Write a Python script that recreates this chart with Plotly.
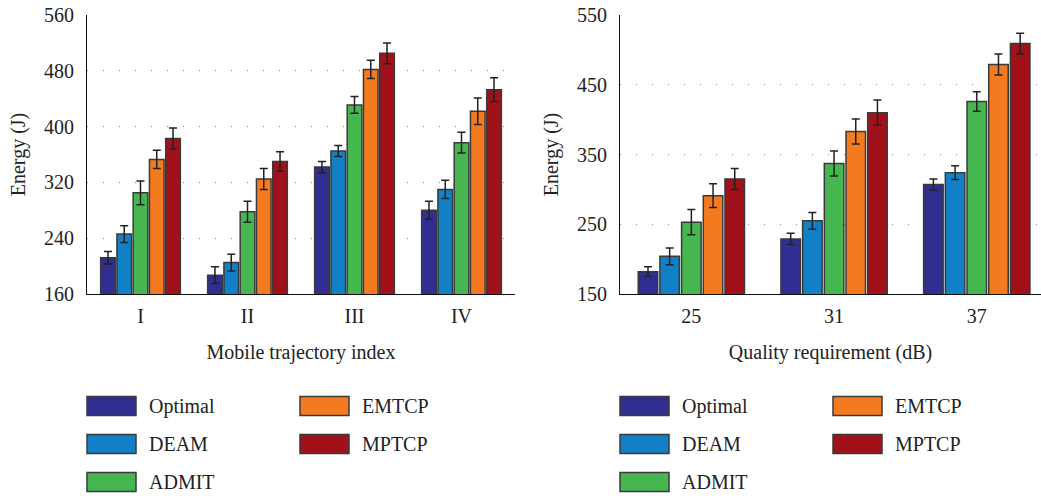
import plotly.graph_objects as go

W, H = 1041, 496

series = ["Optimal", "DEAM", "ADMIT", "EMTCP", "MPTCP"]
colors = ["#302F91", "#1180C6", "#46B750", "#F47A20", "#A0111A"]

traj_cats = ["I", "II", "III", "IV"]
traj_vals = {
    "Optimal": [212, 187, 342, 280],
    "DEAM":    [246, 205, 365, 310],
    "ADMIT":   [305, 278, 431, 377],
    "EMTCP":   [353, 325, 482, 422],
    "MPTCP":   [383, 350, 505, 453],
}
traj_err = {
    "Optimal": [9, 12, 8, 13],
    "DEAM":    [12, 12, 8, 13],
    "ADMIT":   [17, 15, 12, 15],
    "EMTCP":   [13, 15, 13, 19],
    "MPTCP":   [15, 14, 15, 17],
}

qual_cats = ["25", "31", "37"]
qual_vals = {
    "Optimal": [182, 229, 307],
    "DEAM":    [204, 255, 324],
    "ADMIT":   [253, 337, 426],
    "EMTCP":   [291, 383, 479],
    "MPTCP":   [315, 410, 509],
}
qual_err = {
    "Optimal": [7, 8, 8],
    "DEAM":    [12, 12, 10],
    "ADMIT":   [18, 18, 14],
    "EMTCP":   [17, 18, 15],
    "MPTCP":   [15, 18, 15],
}

left_ticks = [160, 240, 320, 400, 480, 560]
right_ticks = [150, 250, 350, 450, 550]

FONT = "Liberation Serif"
FS = 20
EDGE = "#3a3a3a"
TXT = "#222222"

fig = go.Figure()
for name, col in zip(series, colors):
    fig.add_trace(go.Bar(
        x=traj_cats, y=traj_vals[name], name=name, xaxis="x", yaxis="y",
        marker=dict(color=col, line=dict(color=EDGE, width=1.5)),
        error_y=dict(type="data", array=traj_err[name], color="#222222",
                     thickness=1.5, width=4),
        showlegend=False,
    ))
for name, col in zip(series, colors):
    fig.add_trace(go.Bar(
        x=qual_cats, y=qual_vals[name], name=name, xaxis="x2", yaxis="y2",
        marker=dict(color=col, line=dict(color=EDGE, width=1.5)),
        error_y=dict(type="data", array=qual_err[name], color="#222222",
                     thickness=1.5, width=4),
        showlegend=False,
    ))

def px_x(p):
    return p / W

def px_y(p):
    return 1 - p / H

y_dom = [px_y(294), px_y(15)]
axis_common = dict(
    showline=True, linecolor="#111111", linewidth=1.2, ticks="",
    tickfont=dict(family=FONT, size=FS, color=TXT),
    title_font=dict(family=FONT, size=FS, color=TXT),
    automargin=False, zeroline=False,
)
grid_common = dict(showgrid=True, gridcolor="#8a8a8a",
                   griddash="1.3px,14.7px", gridwidth=1.3)

fig.update_layout(
    width=W, height=H,
    margin=dict(l=0, r=0, t=0, b=0),
    paper_bgcolor="white", plot_bgcolor="white",
    barmode="group", bargap=0.24, bargroupgap=0.1,
    font=dict(family=FONT, size=FS, color=TXT),
    xaxis=dict(domain=[px_x(87), px_x(515)], anchor="y", type="category",
               range=[-0.5, 3.5], showgrid=False,
               title=dict(text="Mobile trajectory index", standoff=18),
               ticklabelstandoff=4, **axis_common),
    yaxis=dict(domain=y_dom, anchor="x", range=[160, 560],
               tickvals=left_ticks,
               title=dict(text="Energy (J)", standoff=12),
               ticklabelstandoff=8, **grid_common, **axis_common),
    xaxis2=dict(domain=[px_x(620), 1.0], anchor="y2", type="category",
                range=[-0.5, 2.45], showgrid=False,
                title=dict(text="Quality requirement (dB)", standoff=18),
                ticklabelstandoff=4, **axis_common),
    yaxis2=dict(domain=y_dom, anchor="x2", range=[150, 550],
                tickvals=right_ticks,
                title=dict(text="Energy (J)", standoff=12),
                ticklabelstandoff=8, **grid_common, **axis_common),
)

# Legends drawn below each panel
shapes = []
annotations = []
for left in (87, 620):
    for i, (name, col) in enumerate(zip(series, colors)):
        c, r = divmod(i, 3)
        x0 = left + c * 213
        yc = 406 + r * 38
        shapes.append(dict(type="rect", xref="paper", yref="paper",
                           x0=px_x(x0), x1=px_x(x0 + 49),
                           y0=px_y(yc + 9.5), y1=px_y(yc - 9.5),
                           fillcolor=col, line=dict(color=EDGE, width=1.5)))
        annotations.append(dict(xref="paper", yref="paper",
                                x=px_x(x0 + 60), y=px_y(yc),
                                xanchor="left", yanchor="middle",
                                text=name, showarrow=False,
                                font=dict(family=FONT, size=FS, color=TXT)))
fig.update_layout(shapes=shapes, annotations=annotations)

fig.write_html(
    "out.html",
    config={"displayModeBar": False},
    post_script="document.body.style.margin='0px';document.body.style.overflow='hidden';",
)
